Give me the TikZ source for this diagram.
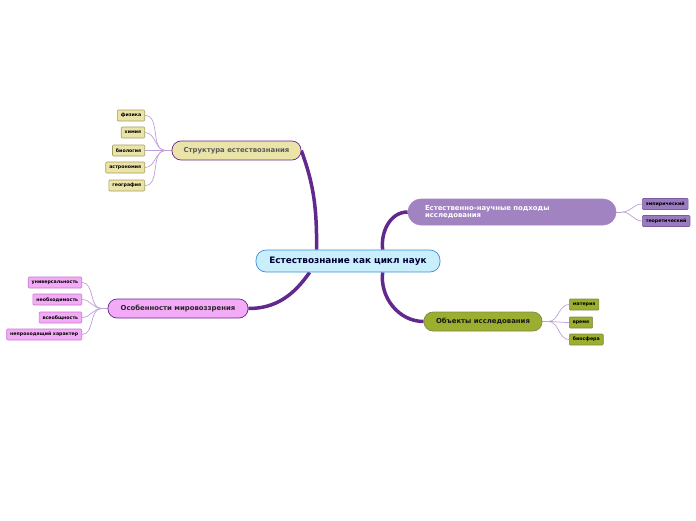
\documentclass[tikz,border=0pt]{standalone}
\usepackage{fontspec}
\setmainfont{DejaVu Sans}
\usetikzlibrary{positioning,calc,backgrounds}

\definecolor{edge}{HTML}{62298C}
\definecolor{twig}{HTML}{BDA0D8}
\definecolor{ctrfill}{HTML}{C9EEFC}
\definecolor{ctrdraw}{HTML}{3B8FD8}
\definecolor{khaki}{HTML}{EBE4A8}
\definecolor{khakidraw}{HTML}{A89E60}
\definecolor{lav}{HTML}{A283C2}
\definecolor{lavleaf}{HTML}{9B7BBF}
\definecolor{lavdraw}{HTML}{7B5A9F}
\definecolor{pink}{HTML}{F3ABF7}
\definecolor{pinkdraw}{HTML}{C779CF}
\definecolor{olive}{HTML}{9CAE2F}
\definecolor{olivedraw}{HTML}{7E8A4A}

\begin{document}
\begin{tikzpicture}[
    x=1pt, y=-1pt,
    mnode/.style={
        draw=edge,
        line width=0.7pt,
        rounded corners=9pt,
        inner sep=0pt,
        minimum height=19pt,
        font=\bfseries\fontsize{6.9}{8}\selectfont
        },
    lnode/.style={
        draw,
        line width=0.6pt,
        rounded corners=1pt,
        inner xsep=3.5pt,
        inner ysep=0pt,
        minimum height=11pt,
        font=\bfseries\fontsize{4.7}{5}\selectfont
        },
    big/.style={draw=edge, line width=3.5pt},
    twigline/.style={draw=twig, line width=0.7pt},
]
\useasboundingbox (0,0) rectangle (696,520);

\node[mnode, draw=ctrdraw, fill=ctrfill, text=blue!20!black, minimum width=184pt,
      minimum height=22pt, rounded corners=10pt, font=\bfseries\fontsize{8.9}{10}\selectfont]
      (ctr) at (348,261) {Естествознание как цикл наук};

\node[mnode, fill=khaki, text=black!65, minimum width=129pt](str) at (236.5,150.5){Структура естествознания};
\node[mnode, draw=lav, fill=lav, text=white, minimum height=26pt, rounded corners=13pt,
      text width=174pt, inner xsep=17pt, align=left, font=\bfseries\fontsize{6.9}{7.6}\selectfont]
      (pod) at (512,212){Естественно-научные подходы\\исследования};
\node[mnode, fill=pink, text=black!85, minimum width=140pt](osob) at (178,308.5){Особенности мировоззрения};
\node[mnode, draw=olivedraw, fill=olive, text=black!90, minimum width=118pt](obj) at (483,321.5){Объекты исследования};

% structure leaves
\node[lnode, draw=khakidraw, fill=khaki, anchor=east](s1) at (145,115.5){физика};
\node[lnode, draw=khakidraw, fill=khaki, anchor=east](s2) at (145,132.5){химия};
\node[lnode, draw=khakidraw, fill=khaki, anchor=east](s3) at (145,150.5){биология};
\node[lnode, draw=khakidraw, fill=khaki, anchor=east](s4) at (145,167.5){астрономия};
\node[lnode, draw=khakidraw, fill=khaki, anchor=east](s5) at (145,185.5){география};

% approach leaves
\node[lnode, draw=lavdraw, fill=lavleaf, anchor=west](p1) at (642,204){эмпирический};
\node[lnode, draw=lavdraw, fill=lavleaf, anchor=west](p2) at (642,221){теоретический};

% worldview leaves
\node[lnode, draw=pinkdraw, fill=pink, anchor=east](o1) at (82,282.5){универсальность};
\node[lnode, draw=pinkdraw, fill=pink, anchor=east](o2) at (82,299.5){необходимость};
\node[lnode, draw=pinkdraw, fill=pink, anchor=east](o3) at (82,317.5){всеобщность};
\node[lnode, draw=pinkdraw, fill=pink, anchor=east](o4) at (82,334.5){непроходящий характер};

% object leaves
\node[lnode, draw=olivedraw, fill=olive, anchor=west](b1) at (569,304.5){материя};
\node[lnode, draw=olivedraw, fill=olive, anchor=west](b2) at (569,322.5){время};
\node[lnode, draw=olivedraw, fill=olive, anchor=west](b3) at (569,339.5){биосфера};

\begin{scope}[on background layer]
\draw[big] ($(ctr.north west)+(61,0)$) to[out=90,in=-70] (str.east);
\draw[big] ($(ctr.north west)+(127,0)$) to[out=97,in=180] (pod.west);
\draw[big] ($(ctr.south west)+(54,0)$) to[out=-125,in=0] (osob.east);
\draw[big] ($(ctr.south west)+(127,0)$) to[out=-97,in=180] (obj.west);

\draw[twigline] (str.west) -- ++(-6,0)coordinate(sj);
\draw[twigline] (sj) to[out=180,in=0] (s1.east);
\draw[twigline] (sj) to[out=180,in=0] (s2.east);
\draw[twigline] (sj) to[out=180,in=0] (s3.east);
\draw[twigline] (sj) to[out=180,in=0] (s4.east);
\draw[twigline] (sj) to[out=180,in=0] (s5.east);

\draw[twigline] (pod.east) -- ++(6,0)coordinate(pj);
\draw[twigline] (pj) to[out=0,in=180] (p1.west);
\draw[twigline] (pj) to[out=0,in=180] (p2.west);

\draw[twigline] (osob.west) -- ++(-6,0)coordinate(oj);
\draw[twigline] (oj) to[out=180,in=0] (o1.east);
\draw[twigline] (oj) to[out=180,in=0] (o2.east);
\draw[twigline] (oj) to[out=180,in=0] (o3.east);
\draw[twigline] (oj) to[out=180,in=0] (o4.east);

\draw[twigline] (obj.east) -- ++(6,0)coordinate(bj);
\draw[twigline] (bj) to[out=0,in=180] (b1.west);
\draw[twigline] (bj) to[out=0,in=180] (b2.west);
\draw[twigline] (bj) to[out=0,in=180] (b3.west);
\end{scope}

\end{tikzpicture}
\end{document}
